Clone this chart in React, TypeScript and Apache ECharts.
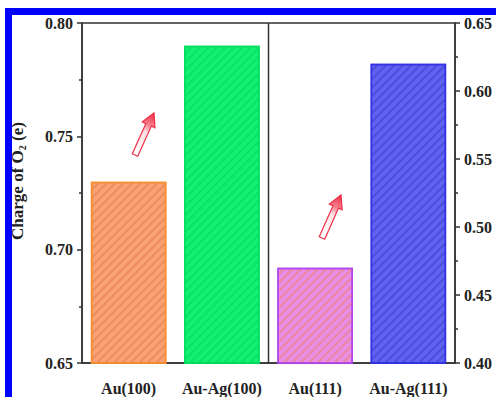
import React, { useEffect, useRef } from "react";
import * as echarts from "echarts";

const categories = ["Au(100)", "Au-Ag(100)", "Au(111)", "Au-Ag(111)"];
const leftValues = [0.73, 0.79]; // Au(100), Au-Ag(100) on left axis
const rightValues = [0.47, 0.62]; // Au(111), Au-Ag(111) on right axis
const leftTicks = { min: 0.65, max: 0.8, interval: 0.05 };
const rightTicks = { min: 0.4, max: 0.65, interval: 0.05 };

const fills = ["#F9A274", "#12F070", "#E88EE6", "#6262F2"];
const borders = ["#F98E32", "#00E05E", "#B444EE", "#3232E6"];
const hatch = ["rgba(225,120,70,0.5)", "rgba(0,200,90,0.4)", "rgba(235,130,120,0.65)", "rgba(55,55,195,0.5)"];

const FONT = "'Liberation Serif', 'Times New Roman', serif";

function itemFor(i: number, v: number) {
  return {
    value: v,
    itemStyle: {
      color: fills[i],
      borderColor: borders[i],
      borderWidth: 1.5,
      decal: {
        symbol: "rect",
        symbolSize: 1,
        dashArrayX: [[1, 0]],
        dashArrayY: [1.5, 3.5],
        rotation: -Math.PI / 4,
        color: hatch[i],
      },
    },
  };
}

function arrow(tx: number, ty: number, hx: number, hy: number) {
  const dx = hx - tx;
  const dy = hy - ty;
  const len = Math.sqrt(dx * dx + dy * dy);
  const ux = dx / len, uy = dy / len;
  const px = -uy, py = ux;
  const sw = 3, hw = 7, hl = 13;
  const bx = hx - ux * hl, by = hy - uy * hl;
  const pts = [
    [tx + px * sw, ty + py * sw],
    [bx + px * sw, by + py * sw],
    [bx + px * hw, by + py * hw],
    [hx, hy],
    [bx - px * hw, by - py * hw],
    [bx - px * sw, by - py * sw],
    [tx - px * sw, ty - py * sw],
  ];
  return {
    type: "polygon",
    shape: { points: pts },
    style: {
      fill: new echarts.graphic.LinearGradient(tx, ty, hx, hy, [
        { offset: 0, color: "#ffffff" },
        { offset: 0.55, color: "#ffe0e4" },
        { offset: 0.72, color: "#f6808e" },
        { offset: 1, color: "#f02a40" },
      ], true),
      stroke: "#ee3048",
      lineWidth: 1.2,
    },
    z: 20,
  };
}

export default function App() {
  const ref = useRef<HTMLDivElement>(null);
  useEffect(() => {
    if (!ref.current) return;
    const chart = echarts.init(ref.current, null, { renderer: "svg" });
    const axisLabel = { fontFamily: FONT, fontWeight: "bold", fontSize: 16, color: "#222" };
    const lineStyle = { color: "#333", width: 1.5 };
    chart.setOption({
      animation: false,
      backgroundColor: "#fff",
      grid: { left: 82, right: 41, top: 23, bottom: 34, show: true, borderColor: "#333", borderWidth: 1.5 },
      xAxis: {
        type: "category",
        data: categories,
        axisLine: { lineStyle },
        axisTick: { alignWithLabel: true, length: 5, lineStyle },
        axisLabel: { ...axisLabel, margin: 17, interval: 0 },
      },
      yAxis: [
        {
          type: "value",
          ...leftTicks,
          position: "left",
          axisLine: { show: true, lineStyle },
          axisTick: { show: true, length: 5, lineStyle },
          minorTick: { show: true, splitNumber: 2, length: 3, lineStyle },
          splitLine: { show: false },
          axisLabel: { ...axisLabel, margin: 9, formatter: (v: number) => v.toFixed(2) },
        },
        {
          type: "value",
          ...rightTicks,
          position: "right",
          axisLine: { show: true, lineStyle },
          axisTick: { show: true, length: 5, lineStyle },
          minorTick: { show: true, splitNumber: 2, length: 3, lineStyle },
          splitLine: { show: false },
          axisLabel: { ...axisLabel, margin: 9, formatter: (v: number) => v.toFixed(2) },
        },
      ],
      series: [
        {
          type: "bar",
          yAxisIndex: 0,
          barWidth: "81%",
          barGap: "-100%",
          data: [itemFor(0, leftValues[0]), itemFor(1, leftValues[1]), "-", "-"],
        },
        {
          type: "bar",
          yAxisIndex: 1,
          barWidth: "81%",
          barGap: "-100%",
          data: ["-", "-", itemFor(2, rightValues[0]), itemFor(3, rightValues[1])],
        },
      ],
    });
    const x1 = chart.convertToPixel({ xAxisIndex: 0 }, categories[1]) as number;
    const x2 = chart.convertToPixel({ xAxisIndex: 0 }, categories[2]) as number;
    const yTop = chart.convertToPixel({ yAxisIndex: 0 }, leftTicks.max) as number;
    const yBot = chart.convertToPixel({ yAxisIndex: 0 }, leftTicks.min) as number;
    const xm = (x1 + x2) / 2;
    chart.setOption({
      graphic: [
        { type: "line", shape: { x1: xm, y1: yTop, x2: xm, y2: yBot }, style: { stroke: "#333", lineWidth: 1.5 }, z: 10 },
        arrow(135, 155, 154, 113),
        arrow(322, 238, 341, 195),
        { type: "rect", shape: { x: 5, y: 8, width: 491, height: 7 }, style: { fill: "#0000ff" }, z: 30 },
        { type: "rect", shape: { x: 5, y: 8, width: 7, height: 389 }, style: { fill: "#0000ff" }, z: 30 },
        {
          type: "text",
          x: 17,
          y: 181,
          rotation: Math.PI / 2,
          style: {
            text: "Charge of O{sub|2} (e)",
            fontFamily: FONT,
            fontWeight: "bold",
            fontSize: 17,
            fill: "#222",
            align: "center",
            verticalAlign: "middle",
            rich: {
              sub: { fontFamily: FONT, fontWeight: "bold", fontSize: 10, fill: "#222", padding: [10, 0, 0, 0] },
            },
          },
          z: 20,
        },
      ],
    });
    return () => chart.dispose();
  }, []);
  return <div ref={ref} style={{ position: "fixed", left: 0, top: 0, width: 496, height: 397 }} />;
}
